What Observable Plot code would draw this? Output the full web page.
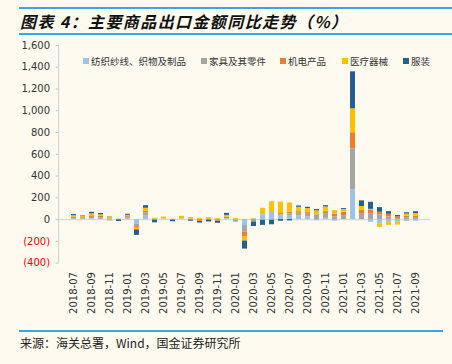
<!DOCTYPE html>
<html><head><meta charset="utf-8">
<script src="https://cdn.jsdelivr.net/npm/d3@7"></script>
<script src="https://cdn.jsdelivr.net/npm/@observablehq/plot@0.6"></script>
<style>
html,body{margin:0;padding:0;background:#fefaf0;}
#wrap{position:relative;width:452px;height:364px;overflow:hidden;background:#fefaf0;font-family:"Noto Sans CJK SC",sans-serif;}
.hline{position:absolute;height:2px;background:#3aa6e6;}
#title{position:absolute;left:20px;top:8px;font-size:16px;font-weight:bold;font-style:italic;letter-spacing:1.4px;line-height:26px;color:#111;white-space:nowrap;}
#source{position:absolute;left:20px;top:335px;font-size:12px;line-height:16px;color:#222;white-space:nowrap;}
#chart{position:absolute;left:0;top:38px;}
.lg{position:absolute;top:54px;font-size:9.5px;line-height:14px;color:#333;white-space:nowrap;}
.sw{position:absolute;top:58px;width:6px;height:6px;}
</style></head>
<body><div id="wrap">
<div class="hline" style="left:19px;top:7px;width:433px"></div>
<div id="title">图表 4：主要商品出口金额同比走势（%）</div>
<div class="hline" style="left:19px;top:33px;width:433px"></div>
<div id="chart"></div>
<div class="hline" style="left:19px;top:330px;width:424px"></div>
<div id="source">来源：海关总署，Wind，国金证券研究所</div>
</div>
<script>
const months = ["2018-07","2018-08","2018-09","2018-10","2018-11","2018-12","2019-01","2019-02","2019-03","2019-04","2019-05","2019-06","2019-07","2019-08","2019-09","2019-10","2019-11","2019-12","2020-01","2020-02","2020-03","2020-04","2020-05","2020-06","2020-07","2020-08","2020-09","2020-10","2020-11","2020-12","2021-01","2021-02","2021-03","2021-04","2021-05","2021-06","2021-07","2021-08","2021-09"];
const seriesNames = ["纺织纱线、织物及制品","家具及其零件","机电产品","医疗器械","服装"];
const textile   = [5,4,8,3,-8,-3,5,-45,34,-5,5,-5,5,4,2,-4,0,6,-5,-55,3,45,65,40,38,37,24,-12,12,-15,0,275,0,-25,-43,-28,-21,-18,-15];
const furniture = [6,8,12,13,-4,0,12,-20,30,0,0,0,0,-5,-10,0,-10,3,-15,-60,-22,-8,-8,8,15,21,25,43,43,25,31,376,49,49,43,25,4,15,12];
const mech      = [12,6,15,14,4,0,10,-15,10,0,0,0,2,0,-8,0,-6,12,0,-40,3,0,0,8,15,15,15,9,18,24,37,147,34,40,24,24,21,18,18];
const medical   = [13,10,18,14,20,4,12,-15,30,12,18,4,23,15,8,18,9,18,9,-43,2,58,100,105,85,40,37,28,43,34,24,220,37,5,-28,-25,-30,18,24];
const apparel   = [10,5,14,12,2,-15,10,-50,24,-25,0,-15,0,-10,-14,-18,-18,18,-2,-73,-42,-45,-40,-15,-12,12,12,12,12,0,9,340,52,65,43,24,12,12,18];
const colors = ["#9dc3e6","#a5a5a5","#ed7d31","#ffc000","#255e91"];
const yTicks = d3.range(-400, 1601, 200);
const xTicks = months.filter((d, i) => i % 2 === 0);

const seriesValues = [textile, furniture, mech, medical, apparel];
const data = [];
months.forEach((m, i) => seriesNames.forEach((s, j) => data.push({month: m, series: s, value: seriesValues[j][i]})));
const fmt = d3.format(",");

const mL = 58.6, mT = 7, H = 292, mB = 67.4;
const plot = Plot.plot({
  width: 452, height: H,
  marginLeft: mL, marginRight: 21.7, marginTop: mT, marginBottom: mB,
  style: {background: "transparent", fontFamily: "DejaVu Sans", fontSize: "10px", color: "#333"},
  x: {type: "band", domain: months, padding: 0.47, axis: null, label: null},
  y: {domain: [-400, 1600], axis: null, label: null},
  color: {domain: seriesNames, range: colors},
  marks: [
    Plot.ruleY([0], {stroke: "#d9d9d9", strokeWidth: 1.5}),
    Plot.barY(data, {x: "month", y: "value", fill: "series", order: seriesNames}),
    Plot.axisY({ticks: yTicks.filter(d => d >= 0), tickSize: 3, tickPadding: 6, stroke: "#bfbfbf", fill: "#333", tickFormat: fmt, label: null}),
    Plot.axisY({ticks: yTicks.filter(d => d < 0), tickSize: 3, tickPadding: 6, stroke: "#bfbfbf", fill: "#ff0000", tickFormat: d => `(${fmt(-d)})`, label: null}),
    Plot.axisX({ticks: xTicks, tickRotate: -90, tickSize: 0, tickPadding: 9, fill: "#333", label: null})
  ]
});
d3.select(plot).append("line")
  .attr("x1", mL).attr("x2", mL).attr("y1", mT).attr("y2", H - mB)
  .attr("stroke", "#d0d0d0").attr("stroke-width", 1);
document.getElementById("chart").appendChild(plot);

const wrap = document.getElementById("wrap");
const legendX = [83, 201, 280, 342, 403];
seriesNames.forEach((s, j) => {
  const sw = document.createElement("div");
  sw.className = "sw"; sw.style.left = legendX[j] + "px"; sw.style.background = colors[j];
  wrap.appendChild(sw);
  const t = document.createElement("div");
  t.className = "lg"; t.style.left = (legendX[j] + 8) + "px"; t.textContent = s;
  wrap.appendChild(t);
});
</script>
</body></html>
